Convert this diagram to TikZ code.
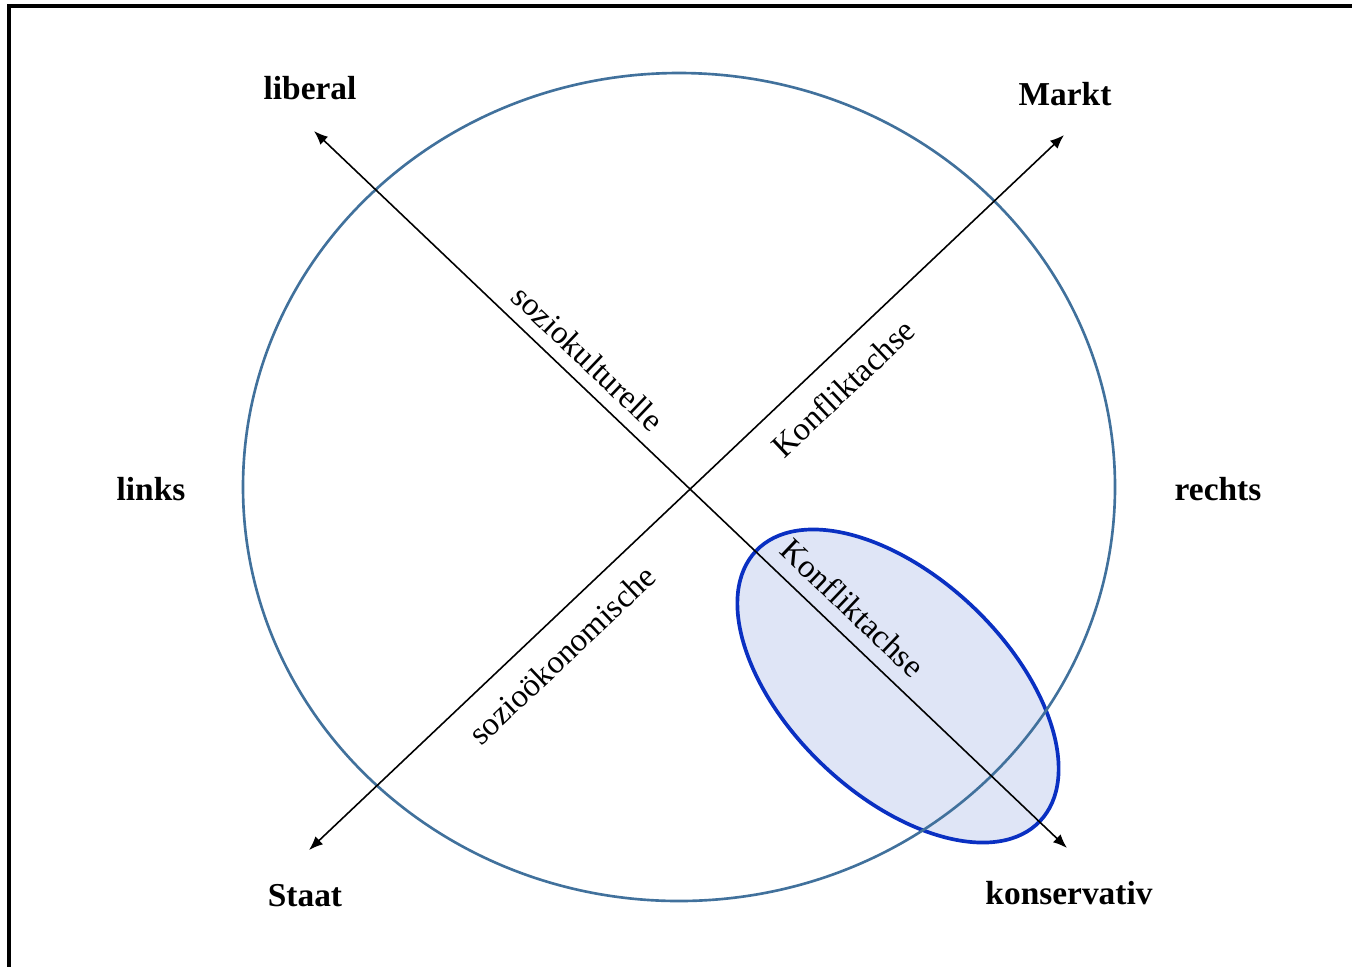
\documentclass[tikz,border=0pt]{standalone}
\usepackage{fontspec}
\setmainfont{Liberation Serif}
\usetikzlibrary{arrows.meta}
\definecolor{rimblue}{HTML}{41719C}
\definecolor{gblue}{HTML}{0A30C2}
\definecolor{gfill}{HTML}{DFE5F6}
\tikzset{
  pole/.style={font=\bfseries\fontsize{9.5}{11}\selectfont,inner sep=0pt},
  axlbl/.style={font=\fontsize{9.3}{11}\selectfont,inner sep=0pt},
  axis/.style={{Latex[length=1.4mm,width=1.1mm]}-{Latex[length=1.4mm,width=1.1mm]},line width=0.45pt},
}

\begin{document}
\begin{tikzpicture}[x=0.01cm,y=-0.01cm]
\useasboundingbox (0,0) rectangle (1352,966);
\clip (0,0) rectangle (1352,966);
% frame
\draw[line width=1pt] (9,6) rectangle (1400,1000);
% voter group and political space
\draw[gblue,fill=gfill,line width=1.05pt,rotate around={-43.6:(898,686)}] (898,686) ellipse [x radius=196,y radius=109];
\draw[rimblue,line width=0.75pt] (679,487) ellipse [x radius=436,y radius=414];
% poles
\node[pole] (lib) at (310,88) {liberal};
\node[pole] (mar) at (1065,94) {Markt};
\node[pole] (lin) at (151,489) {links};
\node[pole] (rec) at (1218,489) {rechts};
\node[pole] (sta) at (305,896) {Staat};
\node[pole] (kon) at (1069,893) {konservativ};
% axis ends
\coordinate (libEnd) at (314,131);
\coordinate (marEnd) at (1064,135);
\coordinate (staEnd) at (309,850);
\coordinate (konEnd) at (1067,848);
% axes
\draw[axis] (libEnd) -- (konEnd);
\draw[axis] (staEnd) -- (marEnd);
\node[axlbl,rotate=-43.6] (sk) at (588,358) {soziokulturelle};
\node[axlbl,rotate=-43.6] (kk) at (853,608) {Konfliktachse};
\node[axlbl,rotate=43.4] (so) at (562,655) {sozioökonomische};
\node[axlbl,rotate=43.4] (ko) at (843,388) {Konfliktachse};
\end{tikzpicture}
\end{document}
